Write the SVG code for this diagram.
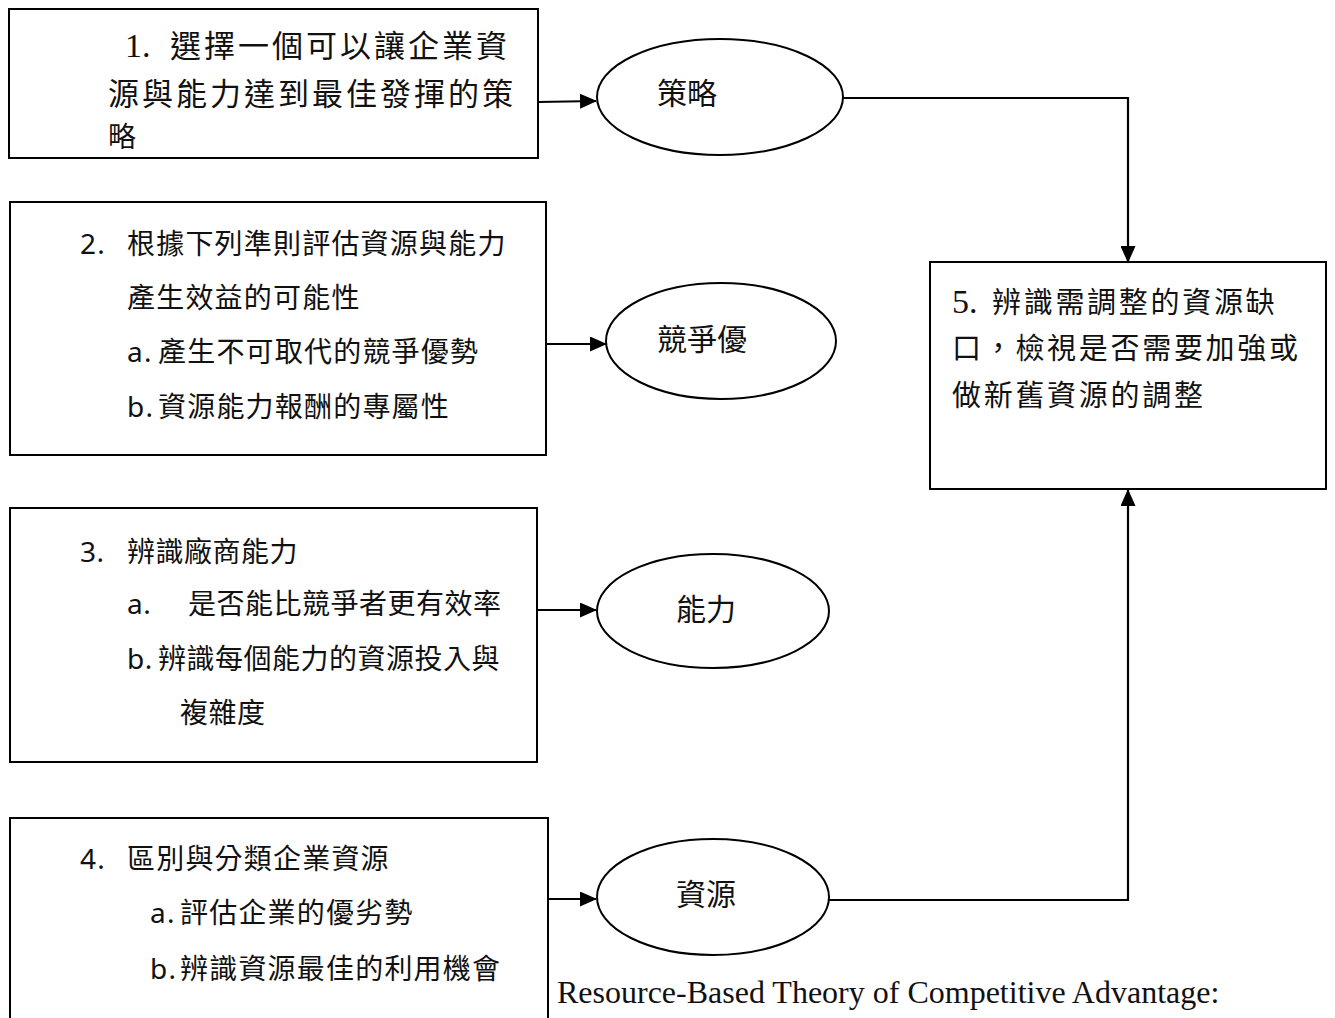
<svg xmlns="http://www.w3.org/2000/svg" width="1335" height="1018" viewBox="0 0 1335 1018">
  <style>
    .box { fill: #ffffff; stroke: #000000; stroke-width: 2; }
    .oval { fill: #ffffff; stroke: #000000; stroke-width: 2; }
    .wire { fill: none; stroke: #000000; stroke-width: 2.2; }
    .cjk { font-family: "Noto Sans CJK TC", "Noto Sans CJK SC", sans-serif; fill: #111111; }
    .num { font-family: "Liberation Serif", "Noto Sans CJK TC", serif; fill: #111111; font-size: 34px; }
    .lab { font-family: "Noto Sans", "Noto Sans CJK TC", sans-serif; fill: #111111; }
    .t1 { font-size: 31px; letter-spacing: 3px; }
    .t2 { font-size: 28px; letter-spacing: 1.2px; }
    .t3 { font-size: 28px; letter-spacing: 0.5px; }
    .t5 { font-size: 29px; letter-spacing: 2.7px; }
    .tn { font-size: 30px; }
    .caption { font-family: "Liberation Serif", "Times New Roman", serif; font-size: 32px; fill: #111111; }
  </style>
  <defs>
    <marker id="arrow" markerUnits="userSpaceOnUse" markerWidth="17" markerHeight="15" refX="16" refY="7.5" orient="auto">
      <path d="M0,0 L17,7.5 L0,15 Z" fill="#000000"/>
    </marker>
  </defs>

  <rect width="1335" height="1018" fill="#ffffff"/>

  <!-- connectors -->
  <g id="connectors">
    <line class="wire" x1="538" y1="102" x2="596" y2="101" marker-end="url(#arrow)"/>
    <polyline class="wire" points="843,98 1128,98 1128,262" marker-end="url(#arrow)"/>
    <line class="wire" x1="546" y1="344" x2="606" y2="344" marker-end="url(#arrow)"/>
    <line class="wire" x1="537" y1="610" x2="596" y2="610" marker-end="url(#arrow)"/>
    <line class="wire" x1="548" y1="899" x2="596" y2="899" marker-end="url(#arrow)"/>
    <polyline class="wire" points="829,900 1128,900 1128,490" marker-end="url(#arrow)"/>
  </g>

  <!-- step 1 -->
  <g id="step1">
    <rect class="box" x="9" y="9" width="529" height="149"/>
    <text class="num" x="125" y="57">1.</text>
    <text class="cjk t1" x="170" y="57">選擇一個可以讓企業資</text>
    <text class="cjk t1" x="108" y="105">源與能力達到最佳發揮的策</text>
    <text class="cjk" x="108" y="147" font-size="28">略</text>
  </g>

  <!-- step 2 -->
  <g id="step2">
    <rect class="box" x="10" y="202" width="536" height="253"/>
    <text class="lab t2" x="80" y="254">2.</text>
    <text class="cjk t2" x="127" y="254">根據下列準則評估資源與能力</text>
    <text class="cjk t2" x="127" y="308">產生效益的可能性</text>
    <text class="lab t2" x="127" y="362">a.</text>
    <text class="cjk t2" x="158" y="362">產生不可取代的競爭優勢</text>
    <text class="lab t2" x="127" y="417">b.</text>
    <text class="cjk t2" x="158" y="417">資源能力報酬的專屬性</text>
  </g>

  <!-- step 3 -->
  <g id="step3">
    <rect class="box" x="10" y="508" width="527" height="254"/>
    <text class="lab t3" x="80" y="562">3.</text>
    <text class="cjk t3" x="127" y="562">辨識廠商能力</text>
    <text class="lab t3" x="127" y="614">a.</text>
    <text class="cjk t3" x="188" y="614">是否能比競爭者更有效率</text>
    <text class="lab t3" x="127" y="669">b.</text>
    <text class="cjk t3" x="158" y="669">辨識每個能力的資源投入與</text>
    <text class="cjk t3" x="180" y="723">複雜度</text>
  </g>

  <!-- step 4 -->
  <g id="step4">
    <rect class="box" x="10" y="818" width="538" height="210"/>
    <text class="lab t2" x="80" y="869">4.</text>
    <text class="cjk t2" x="127" y="869">區別與分類企業資源</text>
    <text class="lab t2" x="150" y="923">a.</text>
    <text class="cjk t2" x="180" y="923">評估企業的優劣勢</text>
    <text class="lab t2" x="150" y="979">b.</text>
    <text class="cjk t2" x="180" y="979">辨識資源最佳的利用機會</text>
  </g>

  <!-- step 5 -->
  <g id="step5">
    <rect class="box" x="930" y="262" width="396" height="227"/>
    <text class="num" x="952" y="313" font-size="32">5.</text>
    <text class="cjk t5" x="992" y="313">辨識需調整的資源缺</text>
    <text class="cjk t5" x="952" y="359">口，檢視是否需要加強或</text>
    <text class="cjk t5" x="952" y="406">做新舊資源的調整</text>
  </g>

  <!-- result ovals -->
  <g id="strategy">
    <ellipse class="oval" cx="720" cy="97" rx="123" ry="58"/>
    <text class="cjk tn" x="657" y="104">策略</text>
  </g>
  <g id="advantage">
    <ellipse class="oval" cx="721" cy="341" rx="115" ry="58"/>
    <text class="cjk tn" x="657" y="350">競爭優</text>
  </g>
  <g id="capability">
    <ellipse class="oval" cx="713" cy="611" rx="116" ry="57"/>
    <text class="cjk tn" x="676" y="620">能力</text>
  </g>
  <g id="resource">
    <ellipse class="oval" cx="713" cy="897" rx="116" ry="58"/>
    <text class="cjk tn" x="676" y="905">資源</text>
  </g>

  <text class="caption" x="557" y="1003">Resource-Based Theory of Competitive Advantage:</text>
</svg>
